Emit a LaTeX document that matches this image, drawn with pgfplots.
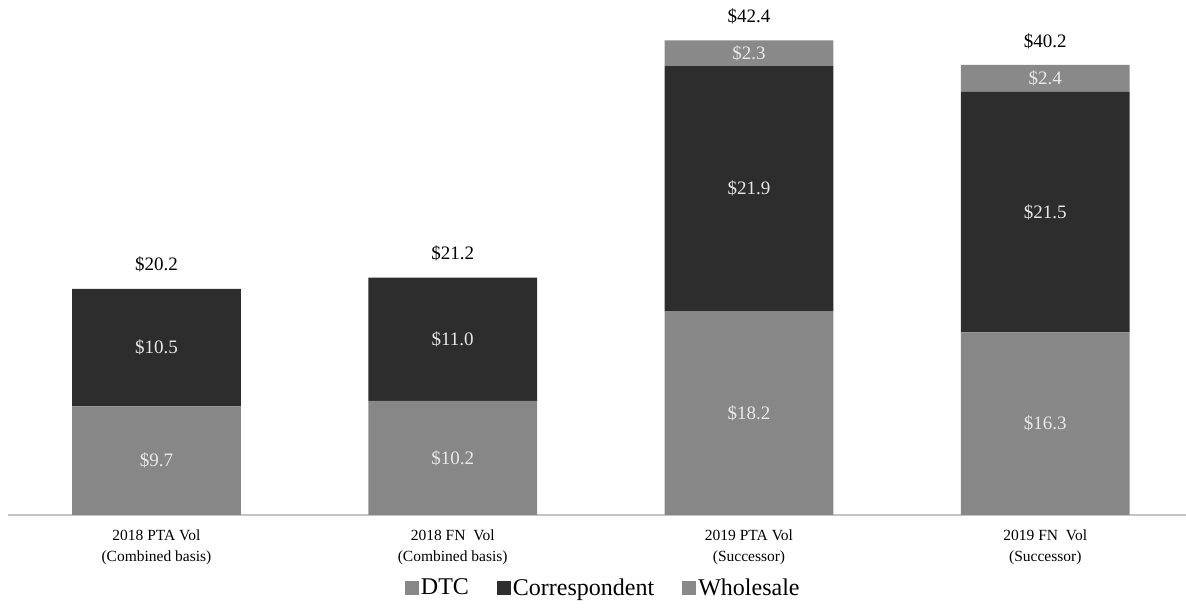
\documentclass[border=0pt]{standalone}
\usepackage{pgfplots}
\usepackage{pgfplotstable}
\usepackage{fontspec}
\setmainfont{Liberation Serif}
\pgfplotsset{compat=1.18}

\definecolor{dtcgray}{HTML}{878787}
\definecolor{corrdark}{HTML}{2D2D2D}
\definecolor{wholegray}{HTML}{898989}
\definecolor{axisgray}{HTML}{C4C4C4}
\definecolor{inlabel}{HTML}{E8E8E8}

% origination volume ($bn) by channel
\pgfplotstableread{
x DTC  Corr Whole Total
0 9.7  10.5 0     20.2
1 10.2 11.0 0     21.2
2 18.2 21.9 2.3   42.4
3 16.3 21.5 2.4   40.2
}\volumes

% wholesale only where it is reported
\pgfplotstableread{
x DTC  Corr Whole
2 18.2 21.9 2.3
3 16.3 21.5 2.4
}\wholesale

\pgfplotsset{
  common frame/.style={
    scale only axis,
    width=1177.7pt, height=515pt,
    xmin=-0.5, xmax=3.475,
    ymin=0, ymax=46,
    clip=false,
  },
  value label/.style={
    draw=none, mark=none, only marks,
    nodes near coords={\$\pgfmathprintnumber[fixed,fixed zerofill,precision=1]{\pgfplotspointmeta}},
    every node near coord/.append style={anchor=center,
      font=\fontsize{19}{22}\selectfont, text=#1},
  },
}

\begin{document}
\begin{tikzpicture}
\begin{axis}[
  common frame,
  ybar stacked,
  bar width=0.57,
  hide y axis,
  axis x line*=bottom,
  x axis line style={draw=axisgray, line width=2pt, -},
  major tick length=0pt,
  xtick={0,1,2,3},
  xticklabels={{2018 PTA Vol\\(Combined basis)},
               {2018 FN\ \ Vol\\(Combined basis)},
               {2019 PTA Vol\\(Successor)},
               {2019 FN\ \ Vol\\(Successor)}},
  xticklabel style={align=center, font=\fontsize{15.5}{21.5}\selectfont, yshift=-11pt},
  legend style={draw=none, at={(0.5052,-0.141)}, anchor=center,
    legend columns=-1, font=\fontsize{24}{28}\selectfont,
    /tikz/every even column/.append style={column sep=26pt},
    inner sep=0pt},
  legend cell align=left,
  legend image code/.code={\fill[#1] (0pt,-7pt) rectangle (14pt,7pt);},
]
\addplot[draw=none, fill=dtcgray]   table[x=x, y=DTC]{\volumes};
\addlegendentry{DTC}
\addplot[draw=none, fill=corrdark]  table[x=x, y=Corr]{\volumes};
\addlegendentry{Correspondent}
\addplot[draw=none, fill=wholegray] table[x=x, y=Whole]{\volumes};
\addlegendentry{Wholesale}
\coordinate (bl) at (rel axis cs:0,0);
\coordinate (tr) at (rel axis cs:1,1);
\end{axis}

% segment values at the middle of each segment, totals above each stack
\begin{axis}[common frame, axis lines=none,
  /pgf/number format/assume math mode=true]
\addplot[value label=inlabel, point meta=\thisrow{DTC}]
  table[x=x, y expr=\thisrow{DTC}/2]{\volumes};
\addplot[value label=inlabel, point meta=\thisrow{Corr}]
  table[x=x, y expr=\thisrow{DTC}+\thisrow{Corr}/2]{\volumes};
\addplot[value label=inlabel, point meta=\thisrow{Whole}]
  table[x=x, y expr=\thisrow{DTC}+\thisrow{Corr}+\thisrow{Whole}/2]{\wholesale};
\addplot[value label=black, point meta=\thisrow{Total},
  every node near coord/.append style={yshift=24pt}]
  table[x=x, y=Total]{\volumes};
\end{axis}
\pgfresetboundingbox
\path[use as bounding box] ([xshift=-8.3pt,yshift=-93pt]bl) rectangle (tr);
\end{tikzpicture}
\end{document}
